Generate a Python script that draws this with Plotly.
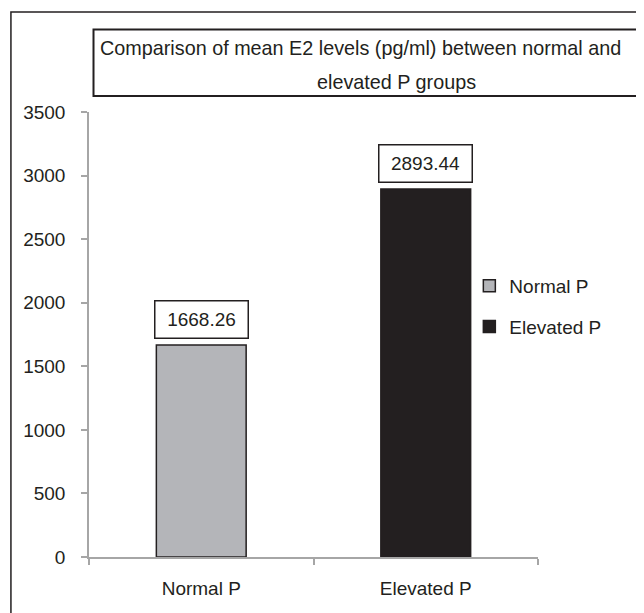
import plotly.graph_objects as go

categories = ["Normal P", "Elevated P"]
mean_e2 = [1668.26, 2893.44]
value_labels = ["1668.26", "2893.44"]
bar_colors = ["#b4b5b9", "#231f20"]
y_ticks = [0, 500, 1000, 1500, 2000, 2500, 3000, 3500]
title_line1 = "Comparison of mean E2 levels (pg/ml) between normal and"
title_line2 = "elevated P groups"

W, H = 644, 613
OFF = 8  # page body margin
# plot area in reference-pixel coordinates
PX0, PX1, PY0, PY1 = 89, 537.6, 112, 557
L = PX0 - OFF
T = PY0 - OFF
R = W - (PX1 - OFF)
B = H - (PY1 - OFF)
pw, ph = PX1 - PX0, PY1 - PY0

def px_x(p):
    return (p - PX0) / pw

def px_y(p):
    return (PY1 - p) / ph

FONT = "Liberation Sans, Arial, sans-serif"
INK = "#231f20"
AXIS = "#a6a6a6"
FS = 19

fig = go.Figure()
for i, cat in enumerate(categories):
    fig.add_trace(go.Bar(
        x=[cat], y=[mean_e2[i]], name=cat, width=0.4,
        marker=dict(color=bar_colors[i], line=dict(color=INK, width=1.5)),
        legendgroup=cat,
    ))

for i, cat in enumerate(categories):
    fig.add_annotation(
        x=cat, y=mean_e2[i], xref="x", yref="y", text=value_labels[i],
        showarrow=False, yanchor="bottom", yshift=6,
        width=88, height=32, borderpad=2, borderwidth=1.5, bordercolor=INK,
        bgcolor="white", font=dict(size=FS, color=INK, family=FONT),
    )

# outer frame (left/top visible)
fig.add_shape(type="rect", xref="paper", yref="paper",
              x0=px_x(11), x1=px_x(700), y0=px_y(680), y1=px_y(12),
              line=dict(color=INK, width=1.5), fillcolor="rgba(0,0,0,0)", layer="below")
# title box
fig.add_shape(type="rect", xref="paper", yref="paper",
              x0=px_x(93.5), x1=px_x(642.5), y0=px_y(96), y1=px_y(29.5),
              line=dict(color=INK, width=2), fillcolor="white")
fig.add_annotation(x=px_x(360), y=px_y(48), xref="paper", yref="paper",
                   text=title_line1, showarrow=False, xanchor="center", yanchor="middle",
                   font=dict(size=19.8, color=INK, family=FONT))
fig.add_annotation(x=px_x(396), y=px_y(82), xref="paper", yref="paper",
                   text=title_line2, showarrow=False, xanchor="center", yanchor="middle",
                   font=dict(size=19.8, color=INK, family=FONT))

fig.update_layout(
    width=W, height=H,
    margin=dict(l=L, r=R, t=T, b=B, pad=0),
    paper_bgcolor="white", plot_bgcolor="white",
    barmode="overlay",
    font=dict(family=FONT, size=FS, color=INK),
    showlegend=True,
    legend=dict(x=px_x(469), y=px_y(267), xanchor="left", yanchor="top",
                font=dict(size=FS, color=INK, family=FONT),
                tracegroupgap=13, bgcolor="rgba(0,0,0,0)", itemwidth=30),
    xaxis=dict(type="category", categoryorder="array", categoryarray=categories,
               showline=True, linecolor=AXIS, linewidth=1.5,
               ticks="outside", ticklen=6, tickcolor=AXIS, tickwidth=1.5,
               tickson="boundaries", showgrid=False, zeroline=False,
               ticklabelstandoff=13, tickfont=dict(size=FS, color=INK)),
    yaxis=dict(range=[0, 3500], tickvals=y_ticks, showline=True, linecolor=AXIS,
               linewidth=1.5, ticks="outside", ticklen=6, tickcolor=AXIS, tickwidth=1.5,
               showgrid=False, zeroline=False, ticklabelstandoff=12,
               tickfont=dict(size=FS, color=INK)),
)

fig.write_html("out.html")
